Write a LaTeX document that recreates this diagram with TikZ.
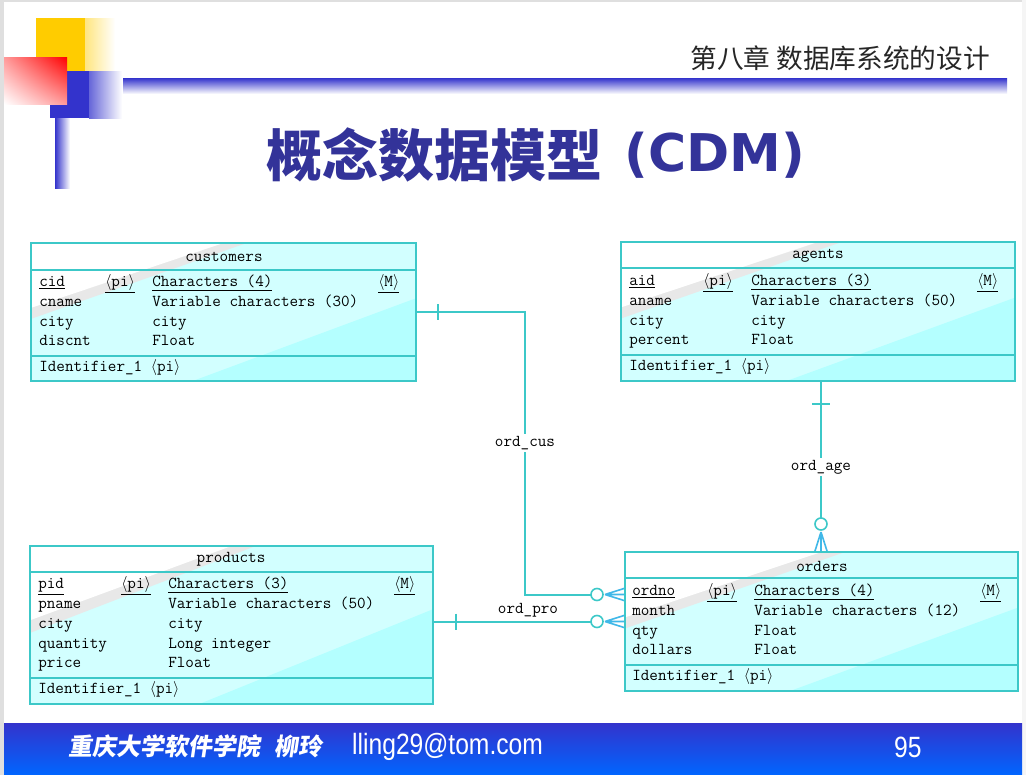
\documentclass[tikz,border=0pt]{standalone}
\usepackage{fontspec}
\newfontfamily\cjkfont{Noto Sans CJK SC}
\newfontfamily\cjkslant[FakeSlant=0.15]{Noto Sans CJK SC}
\newfontfamily\verdfont{DejaVu Sans}
\newfontfamily\footfont{Liberation Sans}
\usetikzlibrary{calc,fit,shadings}

\definecolor{entline}{HTML}{3CC8C8}
\definecolor{entfill}{HTML}{D2FFFF}
\definecolor{entshade}{HTML}{B4FFFF}
\definecolor{entgray}{HTML}{E8E8E8}
\definecolor{prongblue}{HTML}{40B8E8}
\definecolor{titleblue}{HTML}{333399}
\definecolor{decoblue}{HTML}{3333CC}
\definecolor{decoyellow}{HTML}{FFCC00}
\definecolor{footblue}{HTML}{0066FF}

\tikzset{
  entity/.style={draw=entline, line width=1.5pt, inner sep=0pt,
    path picture={
      \coordinate (pa) at (path picture bounding box.north west);
      \coordinate (pb) at (path picture bounding box.south east);
      \fill[entfill] (pa) rectangle (pb);
      \fill[entshade] ($(pa|-pb)!0.42!(pb)$) -- (pb) -- ($(pb)!0.6!(pa-|pb)$) -- cycle;
      \fill[entgray] (pa) -- ($(pa)!0.56!(pa-|pb)$) -- ($(pa)!0.55!(pa|-pb)$) -- cycle;
      \fill[white] (pa) -- ($(pa)!0.5!(pa-|pb)$) -- ($(pa)!0.47!(pa|-pb)$) -- cycle;
    }},
  divider/.style={draw=entline, line width=1.5pt},
  enttitle/.style={inner sep=0pt, font=\ttfamily\fontsize{12.5}{14}\selectfont},
  attr/.style={anchor=west, inner sep=0pt, text height=8pt, text depth=2.5pt,
    font=\ttfamily\fontsize{12.5}{14}\selectfont},
  rel/.style={draw=entline, line width=1.5pt},
  rellabel/.style={inner sep=1.5pt, font=\ttfamily\fontsize{12.5}{14}\selectfont},
  prong/.style={draw=prongblue, line width=1.2pt},
  optional/.style={draw=entline, fill=white, line width=1.2pt},
}

\begin{document}
\begin{tikzpicture}[x=0.75pt,y=-0.75pt]
  \useasboundingbox (0,0) rectangle (1026,775);
  % slide frame
  \fill[white] (0,0) rectangle (1026,775);
  \fill[gray!25] (0,0) rectangle (4,775);
  \fill[gray!25] (0,0) rectangle (1026,1.5);
  \fill[gray!8] (1022,0) rectangle (1026,775);

  % corner decoration
  \fill[decoyellow] (36,18) rectangle (85,71);
  \shade[left color=decoyellow!50, right color=white] (85,18) rectangle (115,71);
  \fill[decoblue] (50,71) rectangle (89,118);
  \shade[left color=decoblue!75, right color=white] (89,71) rectangle (122,118);
  \shade[upper right=red, upper left=red!40, lower right=red!40, lower left=white]
    (4,57) rectangle (67,104);
  \shade[left color=decoblue, right color=white] (55,118) rectangle (70,188);
  \shade[top color=decoblue, bottom color=white] (123,78) rectangle (1007,94);

  % headings
  \node[anchor=east, inner sep=0pt, text=black!85, font=\cjkfont\fontsize{20}{22}\selectfont]
    (chapter) at (990,58) {第八章 数据库系统的设计};
  \node[anchor=west, inner sep=0pt, text=titleblue, font=\cjkfont\bfseries\fontsize{42}{44}\selectfont]
    (title) at (266,155) {概念数据模型};
  \node[anchor=west, inner sep=0pt, text=titleblue, font=\verdfont\bfseries\fontsize{39}{40}\selectfont]
    (titlecdm) at (624,155) {(CDM)};

  % customers
  \node[entity, fit={(31,243) (416,381)}] (cus) {};
  \draw[divider] (31,270) -- (416,270) (31,356) -- (416,356);
  \node[enttitle] (cus-t) at (224,257) {customers};
  \node[attr] (cus-k) at (39,283) {\underline{cid}};
  \node[attr] (cus-kpi) at (105,283) {\underline{$\langle$pi$\rangle$}};
  \node[attr] (cus-kty) at (152,283) {\underline{Characters (4)}};
  \node[attr] (cus-km) at (378,283) {\underline{$\langle$M$\rangle$}};
  \foreach \n/\t [count=\i] in {cname/Variable characters (30), city/city, discnt/Float}{
    \node[attr] (cus-a\i) at (39,283+19.7*\i) {\n};
    \node[attr] (cus-b\i) at (152,283+19.7*\i) {\t};
  }
  \node[attr] (cus-id) at (39,368) {Identifier\_1 $\langle$pi$\rangle$};

  % agents
  \node[entity, fit={(621,242) (1015,381)}] (age) {};
  \draw[divider] (621,268) -- (1015,268) (621,355) -- (1015,355);
  \node[enttitle] (age-t) at (818,256) {agents};
  \node[attr] (age-k) at (629,282) {\underline{aid}};
  \node[attr] (age-kpi) at (703,282) {\underline{$\langle$pi$\rangle$}};
  \node[attr] (age-kty) at (751,282) {\underline{Characters (3)}};
  \node[attr] (age-km) at (977,282) {\underline{$\langle$M$\rangle$}};
  \foreach \n/\t [count=\i] in {aname/Variable characters (50), city/city, percent/Float}{
    \node[attr] (age-a\i) at (629,282+19.7*\i) {\n};
    \node[attr] (age-b\i) at (751,282+19.7*\i) {\t};
  }
  \node[attr] (age-id) at (629,367) {Identifier\_1 $\langle$pi$\rangle$};

  % products
  \node[entity, fit={(30,546) (433,704)}] (prod) {};
  \draw[divider] (30,572) -- (433,572) (30,678) -- (433,678);
  \node[enttitle] (prod-t) at (231,559) {products};
  \node[attr] (prod-k) at (38,585) {\underline{pid}};
  \node[attr] (prod-kpi) at (121,585) {\underline{$\langle$pi$\rangle$}};
  \node[attr] (prod-kty) at (168,585) {\underline{Characters (3)}};
  \node[attr] (prod-km) at (394,585) {\underline{$\langle$M$\rangle$}};
  \foreach \n/\t [count=\i] in {pname/Variable characters (50), city/city,
      quantity/Long integer, price/Float}{
    \node[attr] (prod-a\i) at (38,585+19.8*\i) {\n};
    \node[attr] (prod-b\i) at (168,585+19.8*\i) {\t};
  }
  \node[attr] (prod-id) at (38,690) {Identifier\_1 $\langle$pi$\rangle$};

  % orders
  \node[entity, fit={(625,552) (1018,691)}] (ord) {};
  \draw[divider] (625,578) -- (1018,578) (625,665) -- (1018,665);
  \node[enttitle] (ord-t) at (822,566) {orders};
  \node[attr] (ord-k) at (632,592) {\underline{ordno}};
  \node[attr] (ord-kpi) at (707,592) {\underline{$\langle$pi$\rangle$}};
  \node[attr] (ord-kty) at (754,592) {\underline{Characters (4)}};
  \node[attr] (ord-km) at (980,592) {\underline{$\langle$M$\rangle$}};
  \foreach \n/\t [count=\i] in {month/Variable characters (12), qty/Float, dollars/Float}{
    \node[attr] (ord-a\i) at (632,592+19.7*\i) {\n};
    \node[attr] (ord-b\i) at (754,592+19.7*\i) {\t};
  }
  \node[attr] (ord-id) at (632,677) {Identifier\_1 $\langle$pi$\rangle$};

  % ord_cus
  \node[rellabel] (cuslbl) at (525,443) {ord\_cus};
  \coordinate (cusend) at ($(ord.west)+(0,-27)$);
  \draw[rel] (cus.east) -| (cuslbl.north);
  \draw[rel] (cuslbl.south) |- ($(cusend)+(-33,0)$);
  \draw[rel] ($(cus.east)+(21,-8)$) -- ++(0,16);
  \draw[prong] ($(cusend)+(-19,0)$) -- ($(cusend)+(0,-6)$)
    ($(cusend)+(-19,0)$) -- (cusend) ($(cusend)+(-19,0)$) -- ($(cusend)+(0,6)$);
  \draw[optional] ($(cusend)+(-27,0)$) circle[radius=4.5pt];

  % ord_pro
  \node[rellabel, anchor=south] (prolbl) at (528,619) {ord\_pro};
  \draw[rel] (prod.east |- ord.west) -- ($(ord.west)+(-33,0)$);
  \draw[rel] ($(prod.east |- ord.west)+(22,-8)$) -- ++(0,16);
  \draw[prong] ($(ord.west)+(-19,0)$) -- ($(ord.west)+(0,-6)$)
    ($(ord.west)+(-19,0)$) -- (ord.west) ($(ord.west)+(-19,0)$) -- ($(ord.west)+(0,6)$);
  \draw[optional] ($(ord.west)+(-27,0)$) circle[radius=4.5pt];

  % ord_age
  \node[rellabel] (agelbl) at (821,467) {ord\_age};
  \coordinate (ageend) at (agelbl |- ord.north);
  \draw[rel] (agelbl.north) -- (agelbl.north |- age.south);
  \draw[rel] (agelbl.south) -- ($(ageend)+(0,-33)$);
  \draw[rel] ($(agelbl.north |- age.south)+(-9,22)$) -- ++(18,0);
  \draw[prong] ($(ageend)+(0,-19)$) -- ($(ageend)+(-6,0)$)
    ($(ageend)+(0,-19)$) -- (ageend) ($(ageend)+(0,-19)$) -- ($(ageend)+(6,0)$);
  \draw[optional] ($(ageend)+(0,-27)$) circle[radius=4.5pt];

  % footer
  \shade[top color=decoblue, bottom color=footblue] (4,723) rectangle (1022,775);
  \node[anchor=west, inner sep=0pt, text=white, font=\cjkslant\bfseries\fontsize{18}{20}\selectfont]
    (school) at (68,746) {重庆大学软件学院\hspace{0.6em}柳玲};
  \node[anchor=west, inner sep=0pt, text=white, font=\footfont\fontsize{22}{24}\selectfont, xscale=0.84]
    (mail) at (352,747) {lling29@tom.com};
  \node[anchor=west, inner sep=0pt, text=white, font=\footfont\fontsize{22}{24}\selectfont, xscale=0.84]
    (page) at (894,747) {95};
\end{tikzpicture}
\end{document}
